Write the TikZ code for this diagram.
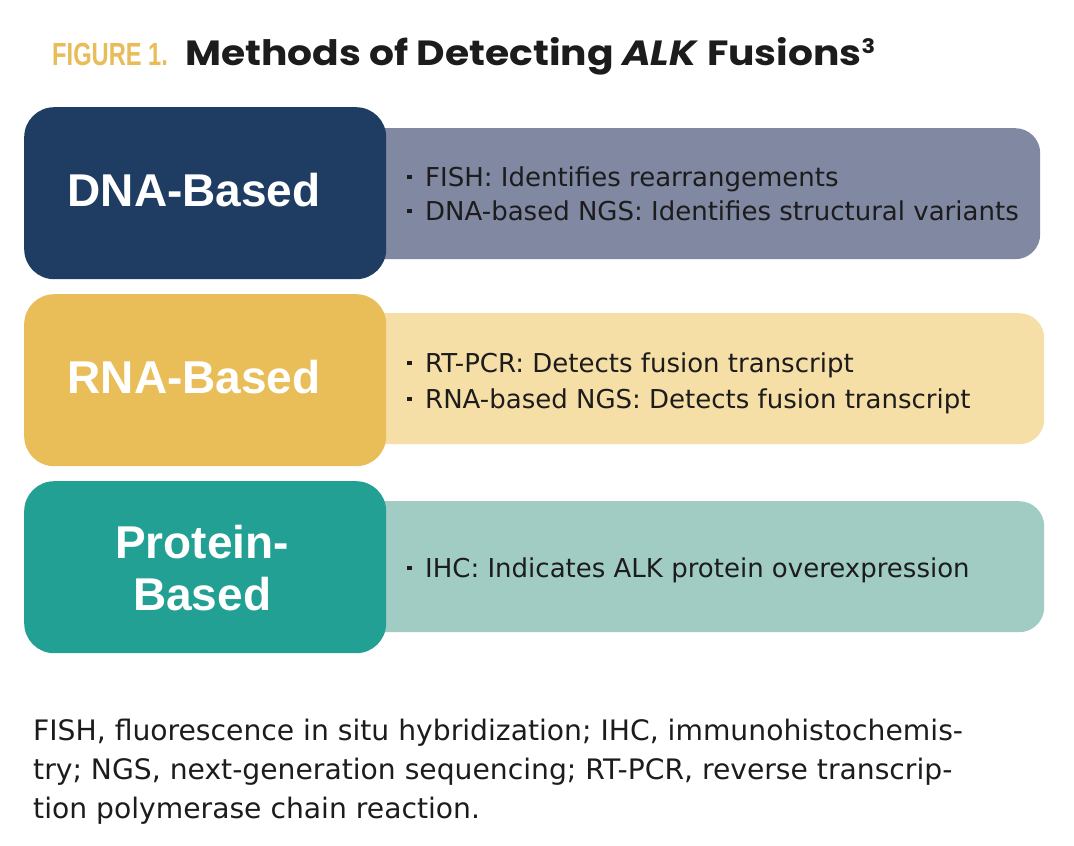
\documentclass[tikz,border=0pt]{standalone}
\usepackage{fontspec}
\setmainfont{DejaVu Sans}
\newfontfamily\labelfont{Liberation Sans}
\newfontfamily\titlefont{Poppins}
\definecolor{ink}{HTML}{1C1C1C}
\definecolor{gold}{HTML}{E8BC58}
\definecolor{dnadark}{HTML}{1F3D63}
\definecolor{dnalight}{HTML}{8088A2}
\definecolor{rnadark}{HTML}{E9BD58}
\definecolor{rnalight}{HTML}{F6DFA7}
\definecolor{protdark}{HTML}{22A093}
\definecolor{protlight}{HTML}{A1CCC3}
\newcommand{\sqbullet}{\rule[7pt]{4.5pt}{4.5pt}\hspace{13.5pt}}
\tikzset{
  methodbox/.style={rounded corners=30pt,minimum width=362pt,minimum height=172pt,inner sep=0pt},
  methodlabel/.style={inner sep=0pt,text=white,align=center,xshift=-11pt,yshift=3pt,
    font=\labelfont\bfseries\fontsize{46}{52}\selectfont},
  detailbox/.style={rounded corners=25pt,minimum height=131pt,inner sep=0pt},
  bulletline/.style={anchor=base west,inner sep=0pt,text=ink,
    font=\fontsize{26}{30}\selectfont},
  footline/.style={anchor=base west,inner sep=0pt,text=ink,
    font=\fontsize{28.2}{30}\selectfont},
}

\begin{document}
\begin{tikzpicture}[x=1pt,y=-1pt]
  \useasboundingbox[fill=white] (0,0) rectangle (1074,846);
  % title
  \node[anchor=base west,inner sep=0pt,text=gold,font=\labelfont\bfseries\fontsize{32}{32}\selectfont]
    (fig) at (52,65) {\scalebox{0.74}[1]{FIGURE 1.}};
  \node[anchor=base west,inner sep=0pt,text=ink,font=\titlefont\bfseries\fontsize{35}{35}\selectfont]
    (title) at (185,65) {\scalebox{1.12}[1]{Methods of Detecting \textit{ALK} Fusions\raisebox{12pt}{\fontsize{20}{20}\selectfont 3}}};
  % detail boxes (behind)
  \node[detailbox,fill=dnalight,minimum width=684pt,anchor=north west] (dnainfo) at (356,128) {};
  \node[detailbox,fill=rnalight,minimum width=688pt,anchor=north west] (rnainfo) at (356,313) {};
  \node[detailbox,fill=protlight,minimum width=688pt,anchor=north west] (protinfo) at (356,501) {};
  % method boxes
  \node[methodbox,fill=dnadark,anchor=north west] (dna) at (24,107) {};
  \node[methodbox,fill=rnadark,anchor=north west] (rna) at (24,294) {};
  \node[methodbox,fill=protdark,anchor=north west] (prot) at (24,481) {};
  \node[methodlabel] (dnalabel) at (dna.center) {DNA-Based};
  \node[methodlabel] (rnalabel) at (rna.center) {RNA-Based};
  \node[methodlabel,xshift=8pt,yshift=-4pt] (protlabel) at (prot.center) {Protein-\\Based};
  % bullets
  \node[bulletline] (fish) at (407,186) {\sqbullet FISH: Identifies rearrangements};
  \node[bulletline] (dngs) at (407,220) {\sqbullet DNA-based NGS: Identifies structural variants};
  \node[bulletline] (rtpcr) at (407,372) {\sqbullet RT-PCR: Detects fusion transcript};
  \node[bulletline] (rngs) at (407,408) {\sqbullet RNA-based NGS: Detects fusion transcript};
  \node[bulletline] (ihc) at (407,577) {\sqbullet IHC: Indicates ALK protein overexpression};
  % footnote
  \node[footline] (foot1) at (33,740) {FISH, fluorescence in situ hybridization; IHC, immunohistochemis-};
  \node[footline] (foot2) at (33,779) {try; NGS, next-generation sequencing; RT-PCR, reverse transcrip-};
  \node[footline] (foot3) at (33,818) {tion polymerase chain reaction.};
\end{tikzpicture}
\end{document}
